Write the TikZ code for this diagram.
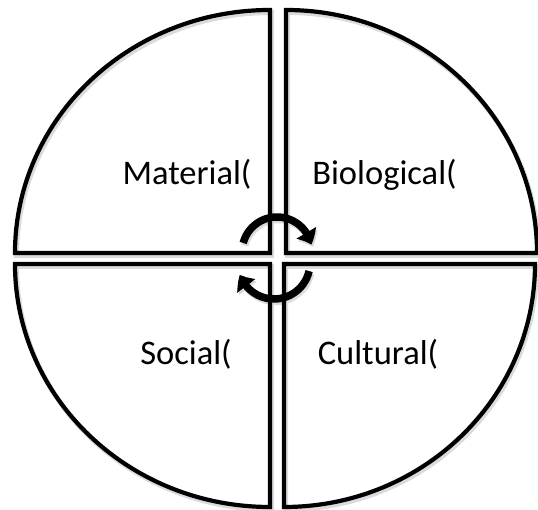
\documentclass[tikz,border=0pt]{standalone}
\usepackage{fontspec}
\setmainfont{Carlito}
\usetikzlibrary{arrows.meta,bending}
\begin{document}
\begin{tikzpicture}[x=1pt,y=1pt,
  quad/.style={draw=black,line width=4.2pt,line join=miter},
  qshadow/.style={draw=black!14,line width=5pt,line join=miter,shift={(1.5,-2.5)}},
  label/.style={font=\fontsize{34.5}{40}\selectfont,inner sep=0pt,anchor=base},
  cyc/.style={line width=7.5pt,-{Triangle[width=22pt,length=13pt,bend]}},
  cshadow/.style={cyc,draw=black!14,shift={(1.5,-2.5)}}]
\useasboundingbox (0,0) rectangle (538,510);
% shadows
\draw[qshadow] (270,257) -- (15,257) arc[start angle=180,end angle=90,x radius=255pt,y radius=243pt] -- cycle;
\draw[qshadow] (286,257) -- (286,500) arc[start angle=90,end angle=0,x radius=251pt,y radius=243pt] -- cycle;
\draw[qshadow] (270,246) -- (15,246) arc[start angle=180,end angle=270,x radius=255pt,y radius=243pt] -- cycle;
\draw[qshadow] (284,246) -- (535,246) arc[start angle=0,end angle=-90,x radius=251pt,y radius=243pt] -- cycle;
\draw[cshadow] (277,258) ++(165:35pt) arc[start angle=165,end angle=12,radius=35pt];
\draw[cshadow] (274,247) ++(-13:36pt) arc[start angle=-13,end angle=-161,radius=36pt];
% quadrants
\draw[quad] (270,257) -- (15,257) arc[start angle=180,end angle=90,x radius=255pt,y radius=243pt] -- cycle;
\draw[quad] (286,257) -- (286,500) arc[start angle=90,end angle=0,x radius=251pt,y radius=243pt] -- cycle;
\draw[quad] (270,246) -- (15,246) arc[start angle=180,end angle=270,x radius=255pt,y radius=243pt] -- cycle;
\draw[quad] (284,246) -- (535,246) arc[start angle=0,end angle=-90,x radius=251pt,y radius=243pt] -- cycle;
% labels
\node[label] (mat) at (187,325) {Material(};
\node[label] (bio) at (384.5,325) {Biological(};
\node[label] (soc) at (186,145) {Social(};
\node[label] (cul) at (378,145) {Cultural(};
% cycle arrows
\draw[cyc] (277,258) ++(165:35pt) arc[start angle=165,end angle=12,radius=35pt];
\draw[cyc] (274,247) ++(-13:36pt) arc[start angle=-13,end angle=-161,radius=36pt];
\end{tikzpicture}
\end{document}
